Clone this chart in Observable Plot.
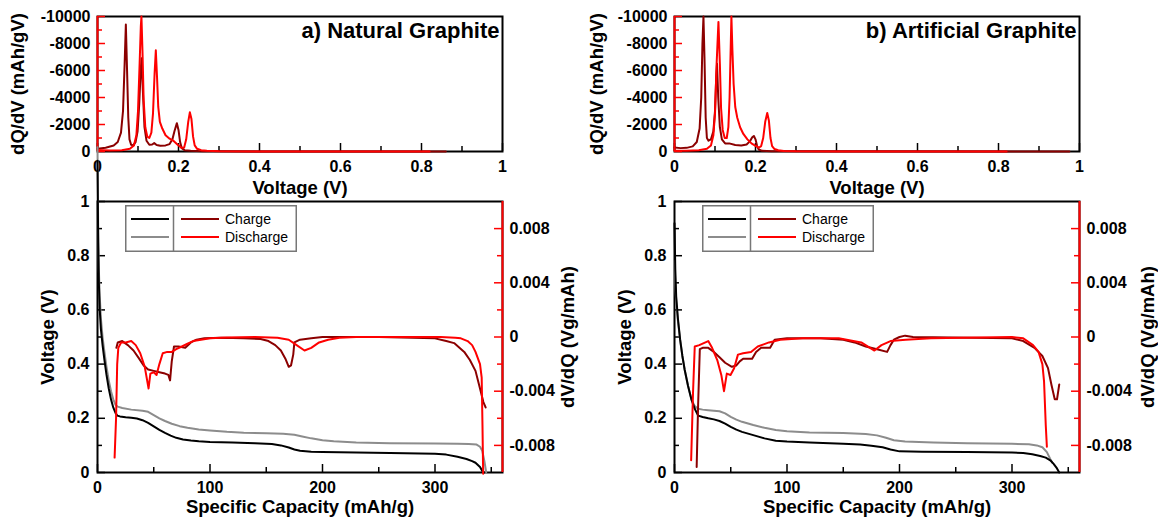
<!DOCTYPE html>
<html><head><meta charset="utf-8">
<script src="https://cdn.jsdelivr.net/npm/d3@7"></script>
<script src="https://cdn.jsdelivr.net/npm/@observablehq/plot@0.6"></script>
<style>
html,body{margin:0;padding:0;background:#fff;}
#chart{position:relative;width:1158px;height:518px;overflow:hidden;background:#fff;}
#chart svg{position:absolute;left:0;top:0;}
</style></head><body><div id="chart"></div>
<script>
// ---------- tick values ----------
const voltageTicks = [0, 0.2, 0.4, 0.6, 0.8, 1];
const voltageMinorTicks = [0.1, 0.3, 0.5, 0.7, 0.9];
const dqdvTicks = [0, -2000, -4000, -6000, -8000, -10000];
const dqdvMinorTicks = [-1000, -3000, -5000, -7000, -9000];
const capacityTicks = [0, 100, 200, 300];
const capacityMinorTicks = [50, 150, 250, 350];
const dvdqTicks = [-0.008, -0.004, 0, 0.004, 0.008];
const dvdqMinorTicks = [-0.006, -0.002, 0.002, 0.006];
const legendLabels = ["Charge", "Discharge"];
const panelTitles = ["a) Natural Graphite", "b) Artificial Graphite"];

// ---------- a) Natural graphite: dQ/dV vs voltage ----------
const natDqdvCharge = [[0,-200],[0.02,-280],[0.04,-450],[0.05,-700],[0.058,-1400],[0.063,-3000],[0.067,-6500],[0.07,-9400],[0.073,-6000],[0.076,-2500],[0.079,-900],[0.083,-500],[0.088,-450],[0.094,-700],[0.099,-1500],[0.103,-3500],[0.107,-6200],[0.109,-6900],[0.112,-4500],[0.116,-1800],[0.121,-800],[0.128,-500],[0.135,-520],[0.14,-620],[0.146,-480],[0.155,-420],[0.168,-450],[0.178,-550],[0.185,-900],[0.19,-1500],[0.196,-2100],[0.2,-1600],[0.204,-700],[0.208,-250],[0.215,-100],[0.23,-50],[0.26,-20],[0.3,-10],[0.86,0]];
const natDqdvDischarge = [[0,-120],[0.03,-80],[0.06,-100],[0.08,-200],[0.09,-450],[0.096,-1200],[0.1,-3000],[0.104,-6500],[0.107,-9300],[0.1085,-10000],[0.111,-7500],[0.114,-3800],[0.118,-1800],[0.123,-1100],[0.128,-1000],[0.133,-1400],[0.137,-2800],[0.141,-5800],[0.144,-7500],[0.147,-5500],[0.15,-3300],[0.154,-2200],[0.16,-1700],[0.168,-1200],[0.178,-950],[0.188,-780],[0.198,-500],[0.207,-280],[0.214,-300],[0.219,-900],[0.224,-2200],[0.228,-2900],[0.232,-2400],[0.236,-1100],[0.24,-450],[0.246,-200],[0.256,-100],[0.27,-50],[0.3,-20],[0.4,-5],[0.82,0]];
// ---------- a) Natural graphite: voltage & dV/dQ vs capacity ----------
const natVoltCharge = [[0,1.15],[0.6,0.85],[1.2,0.7],[2,0.6],[3,0.53],[4.5,0.47],[6,0.42],[8,0.36],[10,0.31],[12,0.27],[14,0.24],[16,0.22],[17.5,0.21],[20,0.207],[25,0.204],[30,0.202],[35,0.199],[40,0.193],[45,0.183],[50,0.17],[55,0.157],[60,0.146],[65,0.136],[70,0.128],[76,0.122],[83,0.118],[90,0.115],[100,0.113],[120,0.111],[140,0.108],[155,0.105],[163,0.1],[170,0.092],[175,0.085],[180,0.08],[190,0.077],[200,0.076],[230,0.074],[260,0.072],[300,0.069],[310,0.066],[320,0.058],[328,0.05],[333,0.042],[336,0.036],[340,0.02],[342,0.006],[343.7,0]];
const natVoltDischarge = [[0,1.2],[0.6,0.9],[1.2,0.75],[2,0.65],[3,0.57],[4.5,0.5],[6,0.45],[8,0.39],[10,0.34],[12,0.3],[14,0.27],[16,0.25],[18,0.243],[22,0.238],[30,0.232],[40,0.228],[45,0.224],[50,0.212],[55,0.2],[60,0.19],[66,0.18],[73,0.171],[80,0.165],[90,0.159],[100,0.155],[115,0.15],[130,0.147],[150,0.145],[165,0.143],[175,0.139],[182,0.133],[190,0.126],[200,0.119],[210,0.115],[230,0.111],[260,0.108],[300,0.107],[320,0.106],[330,0.105],[337,0.103],[340,0.095],[342,0.08],[344,0.04],[345.5,0]];
const natDvdqCharge = [[16.8,-0.0008],[18,-0.0004],[22,-0.0003],[27,-0.0006],[32,-0.001],[37,-0.0016],[41,-0.0021],[45,-0.0024],[50,-0.0025],[55,-0.0026],[60,-0.0027],[63,-0.0028],[64.5,-0.0032],[66,-0.0018],[68,-0.0007],[72,-0.0007],[78,-0.0008],[83,-0.0004],[88,-0.0002],[95,-0.0001],[110,-0.00005],[130,-0.0001],[145,-0.00015],[152,-0.0003],[158,-0.0006],[163,-0.001],[167,-0.0016],[170,-0.0022],[172,-0.0021],[174,-0.0013],[175,-0.0004],[180,-0.0002],[190,-0.0001],[200,0],[250,0],[300,-0.0001],[310,-0.0003],[317,-0.00045],[326,-0.0011],[331,-0.0017],[336,-0.0025],[340,-0.0038],[343,-0.0048],[345,-0.0052]];
const natDvdqDischarge = [[15.2,-0.0089],[16.5,-0.006],[17.5,-0.002],[18.5,-0.0008],[21,-0.0004],[25,-0.0004],[30,-0.0003],[34,-0.0006],[38,-0.0012],[42,-0.0022],[45.4,-0.0038],[47,-0.0027],[50,-0.0026],[52.5,-0.0028],[55,-0.002],[58,-0.0012],[62,-0.0011],[66,-0.0011],[70,-0.0009],[75,-0.0007],[80,-0.0005],[85,-0.0003],[92,-0.0002],[100,-0.0001],[115,-0.00003],[140,0],[160,-0.00005],[170,-0.0002],[177,-0.0006],[184,-0.001],[190,-0.0008],[197,-0.0004],[205,-0.0002],[215,-0.00005],[230,0],[305,0],[318,-0.00005],[323,-0.0001],[329,-0.0003],[333,-0.0006],[336,-0.0011],[340,-0.002],[341.5,-0.003],[342.2,-0.0065],[342.8,-0.0101]];

// ---------- b) Artificial graphite: dQ/dV vs voltage ----------
const artDqdvCharge = [[0,-300],[0.015,-250],[0.03,-270],[0.045,-380],[0.055,-700],[0.062,-1700],[0.066,-4000],[0.069,-8000],[0.0715,-10000],[0.074,-7000],[0.077,-2500],[0.08,-1000],[0.084,-800],[0.09,-900],[0.096,-1500],[0.1,-3000],[0.103,-5500],[0.105,-6500],[0.108,-4000],[0.112,-1800],[0.117,-900],[0.125,-600],[0.135,-600],[0.15,-480],[0.165,-450],[0.178,-520],[0.186,-750],[0.192,-1050],[0.196,-1150],[0.2,-900],[0.204,-400],[0.208,-150],[0.215,-60],[0.24,-20],[0.3,-10],[0.975,0]];
const artDqdvDischarge = [[0,-60],[0.03,-60],[0.06,-100],[0.08,-200],[0.09,-450],[0.096,-1200],[0.1,-2800],[0.104,-6500],[0.1085,-9600],[0.112,-6500],[0.115,-3200],[0.119,-1600],[0.124,-1000],[0.129,-1000],[0.133,-1800],[0.136,-4000],[0.139,-8000],[0.1405,-10000],[0.143,-7500],[0.146,-5000],[0.15,-3300],[0.155,-2500],[0.162,-1800],[0.17,-1300],[0.18,-900],[0.19,-600],[0.2,-420],[0.208,-280],[0.214,-400],[0.219,-1000],[0.224,-2200],[0.229,-2850],[0.233,-2300],[0.237,-1000],[0.241,-400],[0.247,-180],[0.256,-90],[0.27,-40],[0.3,-15],[0.4,-5],[0.82,0]];
// ---------- b) Artificial graphite: voltage & dV/dQ vs capacity ----------
const artVoltCharge = [[0,0.92],[0.7,0.75],[1.5,0.65],[3,0.57],[5,0.49],[7,0.43],[9,0.38],[12,0.32],[15,0.27],[18,0.235],[21,0.21],[25,0.205],[30,0.2],[35,0.196],[40,0.19],[45,0.18],[50,0.168],[55,0.158],[60,0.15],[70,0.138],[80,0.126],[90,0.117],[100,0.114],[120,0.111],[150,0.106],[165,0.103],[175,0.099],[185,0.093],[192,0.085],[200,0.078],[220,0.077],[260,0.076],[300,0.074],[310,0.072],[318,0.067],[325,0.061],[330,0.055],[334,0.045],[337,0.032],[340,0.015],[342,0]];
const artVoltDischarge = [[0,0.78],[0.7,0.7],[1.5,0.63],[3,0.56],[5,0.49],[7,0.43],[9,0.38],[12,0.32],[15,0.27],[18,0.245],[21,0.235],[25,0.232],[30,0.23],[40,0.226],[45,0.218],[50,0.205],[55,0.195],[60,0.187],[70,0.175],[80,0.165],[90,0.157],[100,0.152],[120,0.148],[150,0.146],[170,0.142],[180,0.137],[188,0.128],[195,0.119],[205,0.114],[230,0.111],[260,0.108],[300,0.106],[315,0.104],[322,0.1],[327,0.093],[331,0.075],[334,0.05],[336,0.035]];
const artDvdqCharge = [[19.7,-0.0096],[21,-0.005],[22.5,-0.0009],[25,-0.0008],[30,-0.0008],[35,-0.0011],[40,-0.0015],[45,-0.0019],[51,-0.0022],[55,-0.0021],[58,-0.0018],[61,-0.0016],[69,-0.0016],[72.5,-0.0011],[77,-0.0008],[85,-0.0008],[89,-0.0002],[100,-0.0001],[130,-0.0001],[150,-0.0002],[160,-0.0004],[170,-0.0007],[180,-0.0009],[189,-0.0011],[192,-0.0006],[195,-0.0002],[200,0],[205,0.0001],[212,0],[300,-0.0001],[310,-0.0003],[320,-0.0008],[327,-0.0014],[332,-0.0023],[335,-0.0035],[338,-0.0046],[340,-0.0046],[342,-0.0035]];
const artDvdqDischarge = [[14.8,-0.0091],[16.5,-0.004],[18,-0.0007],[22,-0.0006],[30,-0.0003],[33.4,-0.0008],[38,-0.0017],[41.6,-0.0028],[44,-0.004],[46.5,-0.0027],[49.8,-0.0028],[53,-0.0023],[56.4,-0.0013],[61,-0.0012],[68,-0.0011],[74,-0.0007],[84,-0.0004],[94,-0.0002],[114,-0.0001],[146,-0.0001],[166,-0.0004],[177.7,-0.001],[184,-0.0006],[192,-0.0003],[205.6,-0.0002],[228,-0.0001],[300,0],[310,-0.0001],[318.7,-0.0006],[323.6,-0.0011],[327,-0.002],[328.5,-0.0033],[330,-0.0065],[331,-0.0081]];

// ---------- styling ----------
const W = 1158, H = 518;
const FONT = "'Liberation Sans', Arial, Helvetica, sans-serif";
const DARK_RED = "#8b0000", RED = "#ff0000", GRAY = "#8c8c8c";
const baseStyle = {background: "transparent", overflow: "visible", fontFamily: FONT, color: "black"};
const TOP = {t: 16, b: 151}, BOT = {t: 201, b: 472};
const columns = [
  {ml: 97, right: 502, title: panelTitles[0],
   dqdvCharge: natDqdvCharge, dqdvDischarge: natDqdvDischarge,
   voltCharge: natVoltCharge, voltDischarge: natVoltDischarge,
   dvdqCharge: natDvdqCharge, dvdqDischarge: natDvdqDischarge,
   topTitleDx: -79, leftTitleDx: -49, rightTitleDx: 66},
  {ml: 674, right: 1079, title: panelTitles[1],
   dqdvCharge: artDqdvCharge, dqdvDischarge: artDqdvDischarge,
   voltCharge: artVoltCharge, voltDischarge: artVoltDischarge,
   dvdqCharge: artDvdqCharge, dvdqDischarge: artDvdqDischarge,
   topTitleDx: -77, leftTitleDx: -49, rightTitleDx: 69}
];
const tickText = {tickSize: 0, fontSize: 16, fontWeight: "bold", label: null, tickFormat: d => String(d)};
const titleText = {text: d => d, fontSize: 18.5, fontWeight: "bold", lineAnchor: "middle", textAnchor: "middle"};
const px = (n, span, size) => n * span / size;
const X = d => d[0], Y = d => d[1];

const root = document.getElementById("chart");

for (const c of columns) {
  const mr = W - c.right, pw = c.right - c.ml;
  // ---- top: dQ/dV vs voltage ----
  const th = TOP.b - TOP.t;
  root.appendChild(Plot.plot({
    width: W, height: H, marginLeft: c.ml, marginRight: mr, marginTop: TOP.t, marginBottom: H - TOP.b,
    x: {domain: [0, 1]}, y: {domain: [0, -10000]},
    style: baseStyle,
    marks: [
      Plot.frame({stroke: "black", strokeWidth: 2}),
      Plot.ruleX(voltageTicks, {x: d => d, y1: 0, y2: -px(8, 10000, th), stroke: "black", strokeWidth: 1.5}),
      Plot.ruleX(voltageMinorTicks, {x: d => d, y1: 0, y2: -px(5, 10000, th), stroke: "black", strokeWidth: 1.5}),
      Plot.line(c.dqdvCharge, {x: X, y: Y, stroke: DARK_RED, strokeWidth: 2}),
      Plot.line(c.dqdvDischarge, {x: X, y: Y, stroke: RED, strokeWidth: 2}),
      Plot.ruleX([0], {stroke: RED, strokeWidth: 2}),
      Plot.ruleY(dqdvTicks, {y: d => d, x1: 0, x2: px(8, 1, pw), stroke: RED, strokeWidth: 1.5}),
      Plot.ruleY(dqdvMinorTicks, {y: d => d, x1: 0, x2: px(5, 1, pw), stroke: RED, strokeWidth: 1.5}),
      Plot.axisX(voltageTicks, {...tickText, tickPadding: 9}),
      Plot.axisY(dqdvTicks, {...tickText, tickPadding: 7}),
      Plot.text(["Voltage (V)"], {...titleText, frameAnchor: "bottom", dy: 37}),
      Plot.text(["dQ/dV (mAh/gV)"], {...titleText, frameAnchor: "left", dx: c.topTitleDx, rotate: -90}),
      Plot.text([c.title], {text: d => d, frameAnchor: "top-right", dx: -3, dy: 14, textAnchor: "end", lineAnchor: "middle", fontSize: 22, fontWeight: "bold"})
    ]
  }));
  // ---- bottom: voltage vs capacity ----
  const bh = BOT.b - BOT.t;
  root.appendChild(Plot.plot({
    width: W, height: H, marginLeft: c.ml, marginRight: mr, marginTop: BOT.t, marginBottom: H - BOT.b,
    x: {domain: [0, 360]}, y: {domain: [0, 1]},
    style: baseStyle,
    marks: [
      Plot.frame({stroke: "black", strokeWidth: 2}),
      Plot.ruleX(capacityTicks, {x: d => d, y1: 0, y2: px(8, 1, bh), stroke: "black", strokeWidth: 1.5}),
      Plot.ruleX(capacityMinorTicks, {x: d => d, y1: 0, y2: px(5, 1, bh), stroke: "black", strokeWidth: 1.5}),
      Plot.ruleY(voltageTicks, {y: d => d, x1: 0, x2: px(8, 360, pw), stroke: "black", strokeWidth: 1.5}),
      Plot.ruleY(voltageMinorTicks, {y: d => d, x1: 0, x2: px(5, 360, pw), stroke: "black", strokeWidth: 1.5}),
      Plot.line(c.voltDischarge, {x: X, y: Y, stroke: GRAY, strokeWidth: 2}),
      Plot.line(c.voltCharge, {x: X, y: Y, stroke: "black", strokeWidth: 2}),
      Plot.axisX(capacityTicks, {...tickText, tickPadding: 9}),
      Plot.axisY(voltageTicks, {...tickText, tickPadding: 8}),
      Plot.text(["Specific Capacity (mAh/g)"], {...titleText, frameAnchor: "bottom", dy: 35}),
      Plot.text(["Voltage (V)"], {...titleText, frameAnchor: "left", dx: c.leftTitleDx, rotate: -90})
    ]
  }));
  // ---- bottom overlay: dV/dQ vs capacity (right axis) ----
  root.appendChild(Plot.plot({
    width: W, height: H, marginLeft: c.ml, marginRight: mr, marginTop: BOT.t, marginBottom: H - BOT.b,
    x: {domain: [0, 360], axis: null}, y: {domain: [-0.01, 0.01]},
    style: baseStyle,
    marks: [
      Plot.line(c.dvdqCharge, {x: X, y: Y, stroke: DARK_RED, strokeWidth: 2}),
      Plot.line(c.dvdqDischarge, {x: X, y: Y, stroke: RED, strokeWidth: 2}),
      Plot.ruleX([360], {stroke: RED, strokeWidth: 2}),
      Plot.ruleY(dvdqTicks, {y: d => d, x1: 360 - px(8, 360, pw), x2: 360, stroke: RED, strokeWidth: 1.5}),
      Plot.ruleY(dvdqMinorTicks, {y: d => d, x1: 360 - px(5, 360, pw), x2: 360, stroke: RED, strokeWidth: 1.5}),
      Plot.axisY(dvdqTicks, {...tickText, anchor: "right", tickPadding: 7}),
      Plot.text(["dV/dQ (Vg/mAh)"], {...titleText, frameAnchor: "right", dx: c.rightTitleDx, rotate: -90})
    ]
  }));
  // ---- legend ----
  const lg = d3.create("svg").attr("width", 172).attr("height", 47)
    .style("left", (c.ml + 28) + "px").style("top", (BOT.t + 4) + "px");
  lg.append("rect").attr("x", 0.75).attr("y", 0.75).attr("width", 170.5).attr("height", 45.5)
    .attr("fill", "white").attr("stroke", "#777").attr("stroke-width", 1.5);
  lg.append("line").attr("x1", 48.5).attr("x2", 48.5).attr("y1", 0).attr("y2", 47).attr("stroke", "#777").attr("stroke-width", 1.5);
  const rows = [{y: 14, a: "black", b: DARK_RED}, {y: 32, a: GRAY, b: RED}];
  rows.forEach((r, i) => {
    lg.append("line").attr("x1", 6).attr("x2", 44).attr("y1", r.y).attr("y2", r.y).attr("stroke", r.a).attr("stroke-width", 2);
    lg.append("line").attr("x1", 56).attr("x2", 94).attr("y1", r.y).attr("y2", r.y).attr("stroke", r.b).attr("stroke-width", 2);
    lg.append("text").attr("x", 100).attr("y", r.y).attr("dy", "0.35em").attr("font-family", FONT)
      .attr("font-size", 14).attr("fill", "black").text(legendLabels[i]);
  });
  root.appendChild(lg.node());
}
</script></body></html>
